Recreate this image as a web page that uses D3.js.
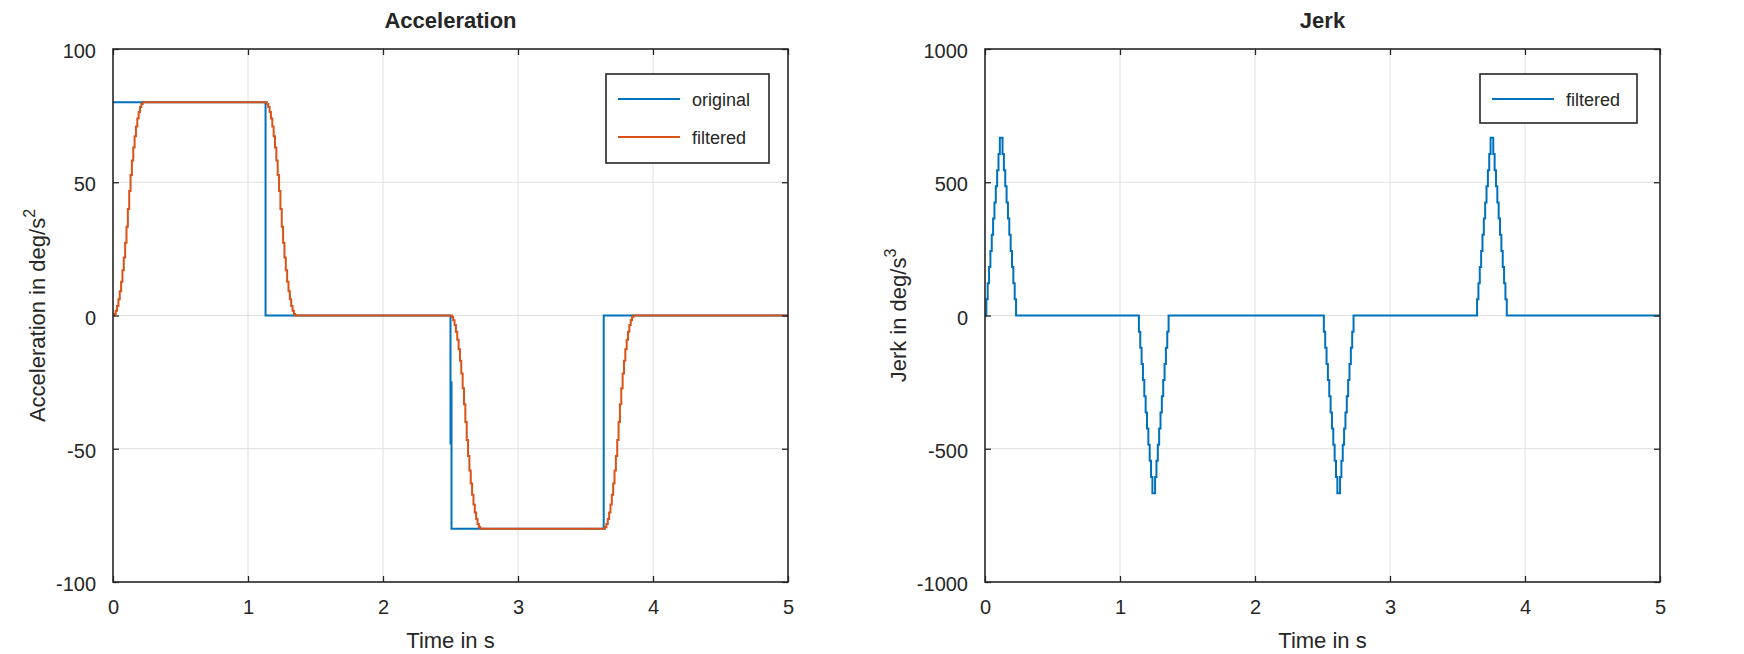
<!DOCTYPE html>
<html><head><meta charset="utf-8">
<script src="https://cdn.jsdelivr.net/npm/d3@7"></script>
<style>
body{margin:0;background:#fff}
svg{display:block}
text{font-family:"Liberation Sans",Arial,Helvetica,sans-serif;fill:#262626}
</style>
</head><body>
<svg id="c" width="1744" height="654"></svg>
<script>
// ---------- data ----------
const timeTicks  = [0, 1, 2, 3, 4, 5];
const accelTicks = [-100, -50, 0, 50, 100];
const jerkTicks  = [-1000, -500, 0, 500, 1000];

// original acceleration (stairs)
const originalT = [0, 1.13, 2.5, 2.507, 2.5075, 3.635, 5];
const originalA = [80, 0, -48, -25, -80, 0, 0];

// filtered acceleration: four edges, sampled every 0.01 s
const edgeStart  = [0, 1.13, 2.5, 3.635];
const sampleStep = 0.01;
const filtRise1 = [0, 0.6, 1.8, 3.6, 6.1, 9.1, 12.7, 17.0, 21.8, 27.3, 33.3, 40.0, 46.7, 52.7, 58.2, 63.0, 67.3, 70.9, 73.9, 76.4, 78.2, 79.4, 80];
const filtFall1 = [80, 79.4, 78.2, 76.4, 73.9, 70.9, 67.3, 63.0, 58.2, 52.7, 46.7, 40.0, 33.3, 27.3, 21.8, 17.0, 12.7, 9.1, 6.1, 3.6, 1.8, 0.6, 0];
const filtFall2 = [0, -0.6, -1.8, -3.6, -6.1, -9.1, -12.7, -17.0, -21.8, -27.3, -33.3, -40.0, -46.7, -52.7, -58.2, -63.0, -67.3, -70.9, -73.9, -76.4, -78.2, -79.4, -80];
const filtRise2 = [-80, -79.4, -78.2, -76.4, -73.9, -70.9, -67.3, -63.0, -58.2, -52.7, -46.7, -40.0, -33.3, -27.3, -21.8, -17.0, -12.7, -9.1, -6.1, -3.6, -1.8, -0.6, 0];

// filtered jerk at the same edges
const jerkUp1   = [0, 61, 121, 182, 242, 303, 364, 424, 485, 545, 606, 667, 667, 606, 545, 485, 424, 364, 303, 242, 182, 121, 61, 0];
const jerkDown1 = [0, -61, -121, -182, -242, -303, -364, -424, -485, -545, -606, -667, -667, -606, -545, -485, -424, -364, -303, -242, -182, -121, -61, 0];
const jerkDown2 = [0, -61, -121, -182, -242, -303, -364, -424, -485, -545, -606, -667, -667, -606, -545, -485, -424, -364, -303, -242, -182, -121, -61, 0];
const jerkUp2   = [0, 61, 121, 182, 242, 303, 364, 424, 485, 545, 606, 667, 667, 606, 545, 485, 424, 364, 303, 242, 182, 121, 61, 0];

// ---------- build point tables ----------
const tEnd = 5;
const originalPts = originalT.map((t, i) => [t, originalA[i]]);
function edgesToPts(edges) {
  const pts = [];
  edges.forEach((vals, i) => vals.forEach((v, k) => pts.push([edgeStart[i] + k * sampleStep, v])));
  pts.push([tEnd, 0]);
  return pts;
}
const filteredPts = edgesToPts([filtRise1, filtFall1, filtFall2, filtRise2]);
const jerkPts = edgesToPts([jerkUp1, jerkDown1, jerkDown2, jerkUp2]);

// ---------- drawing ----------
const svg = d3.select("#c");
const C = {dark: "#262626", grid: "#dfdfdf", blue: "#0072BD", orange: "#D95319"};
const plotTop = 49, plotBottom = 582;
const fmt = d => String(d);

function panel(cfg) {
  const x = d3.scaleLinear().domain([0, 5]).range([cfg.x0, cfg.x1]);
  const y = d3.scaleLinear().domain(cfg.yDomain).range([plotBottom, plotTop]);
  const g = svg.append("g");
  const clipId = "clip" + cfg.id;
  svg.append("clipPath").attr("id", clipId).append("rect")
    .attr("x", cfg.x0).attr("y", plotTop).attr("width", cfg.x1 - cfg.x0).attr("height", plotBottom - plotTop);

  // grid
  g.selectAll(".gx").data(timeTicks.slice(1, -1)).join("line")
    .attr("x1", d => x(d)).attr("x2", d => x(d)).attr("y1", plotTop).attr("y2", plotBottom)
    .attr("stroke", C.grid).attr("stroke-width", 1);
  g.selectAll(".gy").data(cfg.yTicks.slice(1, -1)).join("line")
    .attr("y1", d => y(d)).attr("y2", d => y(d)).attr("x1", cfg.x0).attr("x2", cfg.x1)
    .attr("stroke", C.grid).attr("stroke-width", 1);

  // data
  const line = d3.line().x(d => x(d[0])).y(d => y(d[1])).curve(d3.curveStepAfter);
  const dg = g.append("g").attr("clip-path", `url(#${clipId})`);
  cfg.series.forEach(s => {
    dg.append("path").attr("d", line(s.pts)).attr("fill", "none")
      .attr("stroke", s.color).attr("stroke-width", 2).attr("stroke-linejoin", "miter");
  });

  // axes: bottom/top/left/right with inward ticks
  const tl = 6;
  const axB = d3.axisBottom(x).tickValues(timeTicks).tickSize(-tl).tickFormat(fmt).tickPadding(20);
  const axT = d3.axisTop(x).tickValues(timeTicks).tickSize(-tl).tickFormat("");
  const axL = d3.axisLeft(y).tickValues(cfg.yTicks).tickSize(-tl).tickFormat(fmt).tickPadding(17);
  const axR = d3.axisRight(y).tickValues(cfg.yTicks).tickSize(-tl).tickFormat("");
  const style = sel => {
    sel.select(".domain").remove();
    sel.selectAll(".tick line").attr("stroke", C.dark).attr("stroke-width", 1.3);
    sel.selectAll(".tick text").attr("fill", C.dark).style("font-size", "20px")
      .style("font-family", '"Liberation Sans",Arial,sans-serif');
  };
  const gb = g.append("g").attr("transform", `translate(0,${plotBottom})`).call(axB).call(style);
  gb.selectAll(".tick text").attr("dy", null).attr("y", 32);
  g.append("g").attr("transform", `translate(0,${plotTop})`).call(axT).call(style);
  const gl = g.append("g").attr("transform", `translate(${cfg.x0},0)`).call(axL).call(style);
  gl.selectAll(".tick text").attr("dy", null).attr("y", 8.5);
  g.append("g").attr("transform", `translate(${cfg.x1},0)`).call(axR).call(style);

  g.append("rect").attr("x", cfg.x0).attr("y", plotTop).attr("width", cfg.x1 - cfg.x0).attr("height", plotBottom - plotTop)
    .attr("fill", "none").attr("stroke", C.dark).attr("stroke-width", 1.6);

  // title & labels
  g.append("text").attr("x", (cfg.x0 + cfg.x1) / 2).attr("y", 28).attr("text-anchor", "middle")
    .style("font-size", "22px").style("font-weight", "bold").text(cfg.title);
  g.append("text").attr("x", (cfg.x0 + cfg.x1) / 2).attr("y", 648).attr("text-anchor", "middle")
    .style("font-size", "22px").text("Time in s");
  const yl = g.append("text").attr("transform", `translate(${cfg.ylabelX},${(plotTop + plotBottom) / 2}) rotate(-90)`)
    .attr("text-anchor", "middle").style("font-size", "22px");
  yl.append("tspan").text(cfg.ylabel);
  yl.append("tspan").attr("dy", -10).style("font-size", "16px").text(cfg.ylabelSup);

  // legend
  const L = cfg.legend;
  g.append("rect").attr("x", L.x).attr("y", L.y).attr("width", L.w).attr("height", L.h)
    .attr("fill", "#fff").attr("stroke", C.dark).attr("stroke-width", 1.6);
  cfg.series.forEach((s, i) => {
    const ry = L.y + 25 + i * 38;
    g.append("line").attr("x1", L.x + 12).attr("x2", L.x + 74).attr("y1", ry).attr("y2", ry)
      .attr("stroke", s.color).attr("stroke-width", 2);
    g.append("text").attr("x", L.x + 86).attr("y", ry + 6.5).style("font-size", "18px").attr("fill", "#000").text(s.name);
  });
}

panel({
  id: "a", x0: 113, x1: 788, yDomain: [-100, 100], yTicks: accelTicks,
  title: "Acceleration", ylabel: "Acceleration in deg/s", ylabelSup: "2", ylabelX: 45,
  series: [{name: "original", color: C.blue, pts: originalPts}, {name: "filtered", color: C.orange, pts: filteredPts}],
  legend: {x: 606, y: 74, w: 163, h: 89}
});
panel({
  id: "j", x0: 985, x1: 1660, yDomain: [-1000, 1000], yTicks: jerkTicks,
  title: "Jerk", ylabel: "Jerk in deg/s", ylabelSup: "3", ylabelX: 906,
  series: [{name: "filtered", color: C.blue, pts: jerkPts}],
  legend: {x: 1480, y: 74, w: 157, h: 49}
});
</script>
</body></html>
